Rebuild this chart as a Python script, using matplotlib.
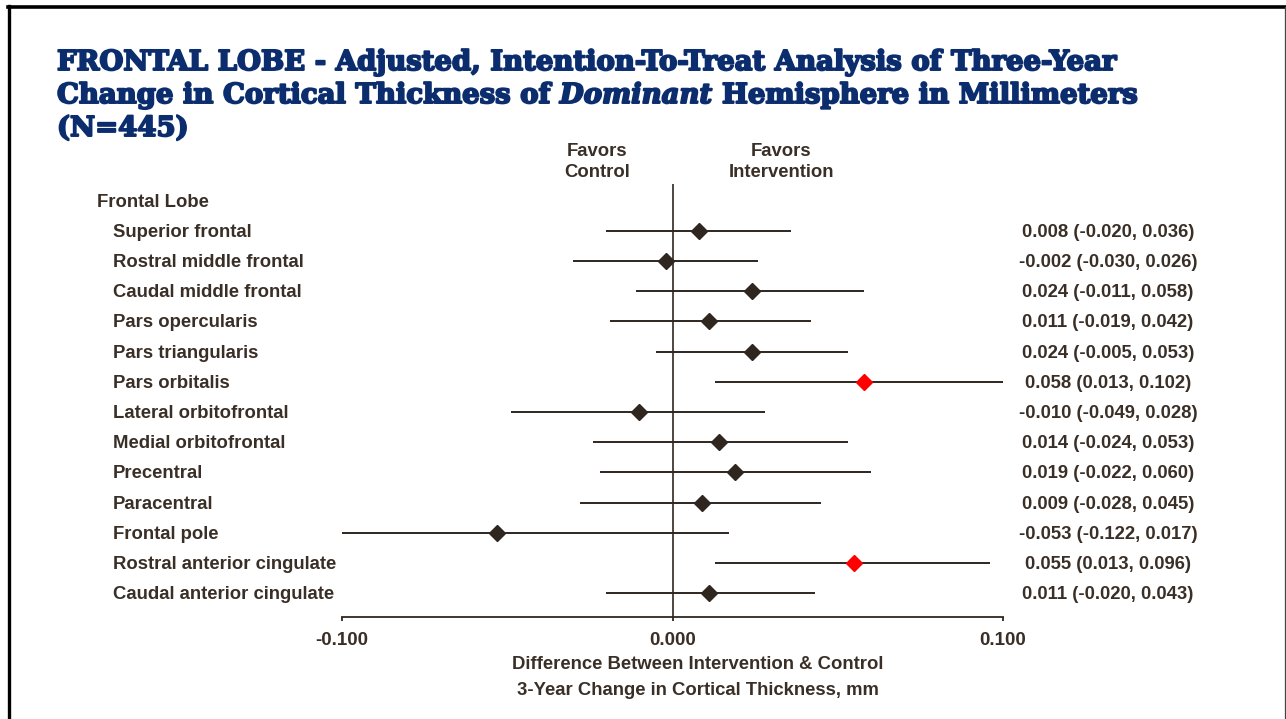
import matplotlib
matplotlib.use("Agg")
import matplotlib.pyplot as plt
from matplotlib import transforms
from matplotlib.lines import Line2D
import matplotlib.patheffects as pe

# ---- data ----
group_label = "Frontal Lobe"
regions = [
    "Superior frontal", "Rostral middle frontal", "Caudal middle frontal",
    "Pars opercularis", "Pars triangularis", "Pars orbitalis",
    "Lateral orbitofrontal", "Medial orbitofrontal", "Precentral",
    "Paracentral", "Frontal pole", "Rostral anterior cingulate",
    "Caudal anterior cingulate",
]
estimate = [0.008, -0.002, 0.024, 0.011, 0.024, 0.058, -0.010,
            0.014, 0.019, 0.009, -0.053, 0.055, 0.011]
ci_low = [-0.020, -0.030, -0.011, -0.019, -0.005, 0.013, -0.049,
          -0.024, -0.022, -0.028, -0.122, 0.013, -0.020]
ci_high = [0.036, 0.026, 0.058, 0.042, 0.053, 0.102, 0.028,
           0.053, 0.060, 0.045, 0.017, 0.096, 0.043]
x_ticks = [-0.100, 0.000, 0.100]
x_tick_labels = ["-0.100", "0.000", "0.100"]

# ---- styling ----
W, H = 1286, 719
TXT = "#3a2f27"
MARK = "#2f2620"
SIG = "#ff0000"
NAVY = "#0b2d6e"
LBL = dict(family="Liberation Sans", weight="bold", size=13.3, color=TXT)

fig = plt.figure(figsize=(W / 100, H / 100), dpi=100)
fig.patch.set_facecolor("white")


def fx(px):
    return px / W


def fy(py):
    return 1 - py / H


# nudge centred labels down a little so the caps sit on the row line
nudge = transforms.ScaledTranslation(0, -1.5 / 100, fig.dpi_scale_trans)

# forest-plot axes: x from -0.1 to 0.1, rows stacked downward
ax_l, ax_r, ax_t, ax_b = 342, 1003, 184, 617
ax = fig.add_axes([fx(ax_l), fy(ax_b), fx(ax_r) - fx(ax_l), (ax_b - ax_t) / H])
row_px = 30.17
n = len(regions)
ax.set_xlim(-0.1, 0.1)
ax.set_ylim(n - 1 + (ax_b - 593) / row_px, -(231 - ax_t) / row_px)

for s in ("top", "right", "left"):
    ax.spines[s].set_visible(False)
ax.spines["bottom"].set_color(MARK)
ax.spines["bottom"].set_linewidth(1.3)
ax.set_yticks([])
ax.set_xticks(x_ticks)
ax.set_xticklabels(x_tick_labels)
ax.tick_params(axis="x", direction="out", length=3, width=1.3, color=MARK,
               pad=8, labelsize=13.5, labelcolor=TXT)
for t in ax.get_xticklabels():
    t.set_fontweight("bold")
    t.set_family("Liberation Sans")
ax.patch.set_alpha(0)

# null line
ax.axvline(0, color=MARK, lw=1.2, zorder=1)

for i in range(n):
    sig = ci_low[i] > 0 or ci_high[i] < 0
    c = SIG if sig else MARK
    ax.plot([ci_low[i], ci_high[i]], [i, i], color=MARK, lw=1.4, zorder=2,
            solid_capstyle="butt")
    ax.plot(estimate[i], i, marker="D", markersize=8.3, color=c, mec=c,
            mew=1, zorder=3)

# row labels and estimate text
tr = transforms.blended_transform_factory(fig.transFigure, ax.transData) + nudge
ax.text(fx(97), -1, group_label, transform=tr, va="center", ha="left", **LBL)
for i, name in enumerate(regions):
    ax.text(fx(113), i, name, transform=tr, va="center", ha="left", **LBL)
    s = f"{estimate[i]:.3f} ({ci_low[i]:.3f}, {ci_high[i]:.3f})"
    ax.text(fx(1108), i, s, transform=tr, va="center", ha="center", **LBL)

ftr = fig.transFigure + nudge
# direction headers
fig.text(fx(597), fy(150), "Favors", ha="center", va="center", transform=ftr, **LBL)
fig.text(fx(597), fy(171), "Control", ha="center", va="center", transform=ftr, **LBL)
fig.text(fx(781), fy(150), "Favors", ha="center", va="center", transform=ftr, **LBL)
fig.text(fx(781), fy(171), "Intervention", ha="center", va="center", transform=ftr, **LBL)

# x-axis title
fig.text(fx(698), fy(663), "Difference Between Intervention & Control",
         ha="center", va="center", transform=ftr, **LBL)
fig.text(fx(698), fy(689), "3-Year Change in Cortical Thickness, mm",
         ha="center", va="center", transform=ftr, **LBL)

# title, thickened with a matching stroke
TT = dict(family="DejaVu Serif", weight="heavy", size=19.8, color=NAVY,
          path_effects=[pe.withStroke(linewidth=1.4, foreground=NAVY)])
fig.text(fx(57), fy(70),
         "FRONTAL LOBE - Adjusted, Intention-To-Treat Analysis of Three-Year",
         ha="left", va="baseline", **TT)
t1 = fig.text(fx(57), fy(103), "Change in Cortical Thickness of ",
              ha="left", va="baseline", **TT)
t2 = fig.text(0, 0, "Dominant", ha="left", va="baseline", style="italic", **TT)
t3 = fig.text(0, 0, " Hemisphere in Millimeters", ha="left", va="baseline", **TT)
fig.text(fx(57), fy(136), "(N=445)", ha="left", va="baseline", **TT)

fig.canvas.draw()
r = fig.canvas.get_renderer()
x2 = t1.get_window_extent(r).x1
t2.set_position((x2 / W, fy(103)))
x3 = t2.get_window_extent(r).x1
t3.set_position((x3 / W, fy(103)))

# frame
fig.add_artist(Line2D([fx(8), fx(1286)], [fy(7), fy(7)], color="black", lw=2.6,
                      transform=fig.transFigure))
fig.add_artist(Line2D([fx(9), fx(9)], [fy(6), fy(719)], color="black", lw=2.4,
                      transform=fig.transFigure))
fig.add_artist(Line2D([fx(1285), fx(1285)], [fy(7), fy(719)], color="#444444",
                      lw=0.9, transform=fig.transFigure))

fig.savefig("out.png", dpi=100, facecolor="white")
